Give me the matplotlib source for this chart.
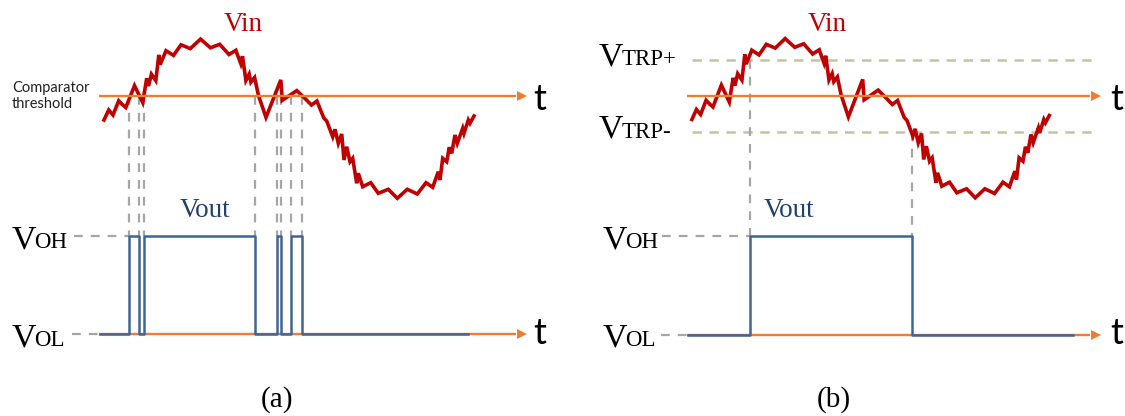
import matplotlib
matplotlib.use("Agg")
import matplotlib.pyplot as plt
from matplotlib.transforms import Affine2D

# ---------------- data ----------------
# Noisy input waveform: time (arb. units) and voltage relative to the comparator threshold
vin_t = [0, 4.7, 9, 14.7, 18.2, 21.8, 30.5, 38.7, 42.7, 44.5, 47.4, 51.8, 54.8, 56.2,
         62, 69.5, 77, 86.3, 96.5, 106.5, 115.7, 125, 131.8, 136.8, 138.5, 141.9, 145.2,
         146.9, 150.6, 154.5, 162, 176.8, 178.3, 192.8, 200.5, 207.5, 212.9, 219.8, 222.7,
         228.7, 231, 234.3, 237.7, 240, 242.7, 246, 248.7, 252.7, 254.3, 258.7, 266.7,
         274.3, 284.3, 293.3, 303.3, 313.3, 322, 328.7, 334.3, 336, 338.7, 342.7, 345.3,
         347.7, 351, 353.3, 358.7, 360, 364.3, 366, 370]
vin_v = [-24, -14, -19, -4.8, -8.4, -11.5, 10.4, -6.5, 17.6, 10, 21.8, 15.4, 41.1, 31.4,
         45.3, 40.6, 51.2, 47.4, 56.9, 48.2, 51.7, 41.5, 45.7, 32.3, 39.8, 15.5, 21.9,
         13.8, 18.5, 0.4, -21.4, 16.1, -4.3, 5.4, -2, -9, -5, -22, -25, -40.7, -33.3,
         -47.3, -38, -64, -50.7, -65.7, -62.3, -87.3, -77.3, -90.7, -86.7, -97.3, -93.3,
         -102.3, -93.3, -98, -86.7, -91.3, -75.7, -84, -62.3, -65.7, -51.3, -57.3, -39,
         -47.3, -32.3, -37.3, -24, -27.3, -20]

# Output switching instants (same time units)
vout_edges_a = [24.5, 35.3, 39.7, 151.2, 172.5, 176.6, 187.4, 197.6]   # no hysteresis
vout_edges_b = [60.5, 227.6]                                            # with hysteresis
vout_span_a = [-4.3, 364.2]
vout_span_b = [-4.2, 394.4]
axis_span = [-4.6, 418.4]
ref_dash_start = -30.5
vtrp_levels = [36.0, -36.5]     # VTRP+ and VTRP- relative to threshold

# ---------------- styles ----------------
RED = "#C00000"
ORANGE = "#ED7D31"
BLUE = "#3E6498"
BLUE_TXT = "#22406E"
GRAY = "#A6A6A6"
KHAKI = "#C9C29E"
SERIF = ["Liberation Serif", "DejaVu Serif"]
SANS = ["Lato", "DejaVu Sans"]

plt.rcParams["lines.scale_dashes"] = False

fig = plt.figure(figsize=(11.25, 4.16), dpi=100)
ax = fig.add_axes([0, 0, 1, 1])
ax.set_xlim(0, 1125)
ax.set_ylim(416, 0)
ax.axis("off")

# panel geometry (pixel placement of each panel's time/voltage frame)
panels = {
    "a": dict(x0=104.0, sx=1.0, ythr=96.0, ylow=333.5, yhigh=235.5),
    "b": dict(x0=691.9, sx=0.966, ythr=95.5, ylow=334.5, yhigh=236.0),
}


def vin_tr(p):
    return Affine2D().scale(p["sx"], -1).translate(p["x0"], p["ythr"]) + ax.transData


def vout_tr(p):
    return (Affine2D().scale(p["sx"], -(p["ylow"] - p["yhigh"]))
            .translate(p["x0"], p["ylow"]) + ax.transData)


def step_wave(edges, span):
    xs, ys = [span[0]], [0]
    level = 0
    for e in edges:
        xs += [e, e]
        ys += [level, 1 - level]
        level = 1 - level
    xs.append(span[1])
    ys.append(level)
    return xs, ys


def arrow_line(tr, y, x_start, x_end):
    ax.plot([x_start, x_end - 6], [y, y], color=ORANGE, lw=1.7, transform=tr,
            solid_capstyle="butt", zorder=4)
    ax.plot([x_end], [y], marker=">", color=ORANGE, markersize=7.5, transform=tr,
            markeredgewidth=0, zorder=4)


def split_label(x, y, big, small, big_size=24.5, small_size=16.5):
    t1 = ax.text(x, y, big, fontsize=big_size, family=SERIF, ha="left", va="baseline",
                 color="black")
    r = fig.canvas.get_renderer()
    bb = t1.get_window_extent(r)
    xd = ax.transData.inverted().transform((bb.x1, bb.y0))[0]
    ax.text(xd - 1.5, y, small, fontsize=small_size, family=SERIF, ha="left",
            va="baseline", color="black")


dash_gray = dict(color=GRAY, lw=1.6, dashes=(6.3, 5.8))
dash_khaki = dict(color=KHAKI, lw=1.8, dashes=(6.8, 5.4))

for name, p in panels.items():
    tv = vin_tr(p)
    to = vout_tr(p)
    edges = vout_edges_a if name == "a" else vout_edges_b
    span = vout_span_a if name == "a" else vout_span_b

    # hysteresis trip levels (panel b)
    if name == "b":
        for lv in vtrp_levels:
            ax.plot([axis_span[0] + 4.5, axis_span[1] + 1.5], [lv, lv], transform=tv,
                    zorder=1, **dash_khaki)

    # vertical dashed guide lines from the switching level down to VOH
    for i, e in enumerate(edges):
        top = 0.0 if name == "a" else vtrp_levels[i]
        y_top_px = p["ythr"] - top
        x_px = p["x0"] + e * p["sx"]
        ax.plot([x_px, x_px], [y_top_px, p["yhigh"]], zorder=1, **dash_gray)

    # VOH / VOL reference dashes
    ax.plot([ref_dash_start, edges[0]], [1, 1], transform=to, zorder=1, **dash_gray)
    ax.plot([ref_dash_start - 1.5, span[0]], [0, 0], transform=to, zorder=1, **dash_gray)

    # input waveform
    ax.plot(vin_t, vin_v, color=RED, lw=2.6, transform=tv, zorder=3,
            solid_joinstyle="miter")

    # threshold axis (top) and time axis (bottom)
    arrow_line(tv, 0, axis_span[0], axis_span[1])
    arrow_line(to, 0, axis_span[0], axis_span[1])

    # output waveform
    sx_, sy_ = step_wave(edges, span)
    ax.plot(sx_, sy_, color=BLUE, lw=1.8, transform=to, zorder=5)

# ---------------- text ----------------
for xc in (243.4, 826.8):
    ax.text(xc, 31, "Vin", fontsize=19.5, family=SERIF, color=RED, ha="center",
            va="baseline")
for xc in (204.5, 788.5):
    ax.text(xc, 217, "Vout", fontsize=19.5, family=SERIF, color=BLUE_TXT, ha="center",
            va="baseline")

for xl in (533, 1110):
    ax.text(xl, 110, "t", fontsize=26, family=SANS, ha="left", va="baseline")
    ax.text(xl, 344, "t", fontsize=26, family=SANS, ha="left", va="baseline")

ax.text(12, 96, "Comparator\nthreshold", fontsize=10.5, family=SANS, ha="left",
        va="center", linespacing=1.15, color="#222222")

split_label(11.5, 248.5, "V", "OH")
split_label(11.5, 346.5, "V", "OL")
split_label(599, 65, "V", "TRP+")
split_label(599, 138, "V", "TRP-")
split_label(602.5, 248.5, "V", "OH")
split_label(602.5, 346.5, "V", "OL")

ax.text(277, 406.5, "(a)", fontsize=21, family=SERIF, ha="center", va="baseline")
ax.text(833.7, 406.5, "(b)", fontsize=21, family=SERIF, ha="center", va="baseline")

fig.savefig("out.png", dpi=100)
